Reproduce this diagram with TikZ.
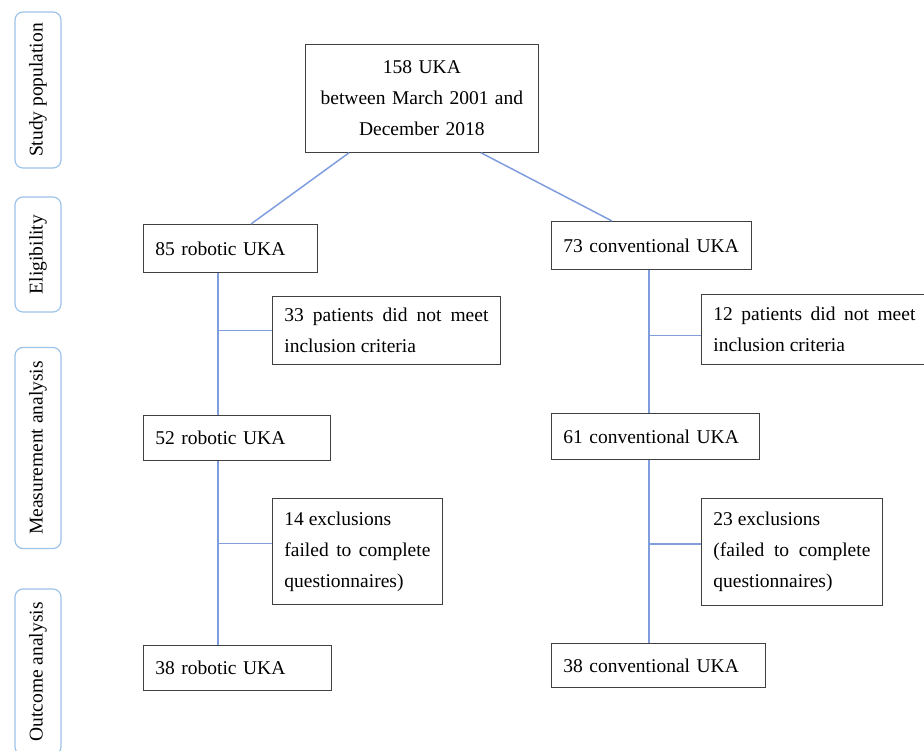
\documentclass[tikz,border=0pt]{standalone}
\usepackage{fontspec}
\setmainfont{Liberation Serif}
\usepackage{xcolor}
\usepackage{tikz}

\definecolor{stageblue}{RGB}{157,195,232}
\definecolor{linkblue}{RGB}{128,158,222}
\hyphenpenalty=10000

\begin{document}
\begin{tikzpicture}[x=1pt, y=-1pt,
    font=\fontsize{19.5pt}{31pt}\selectfont,
    stage/.style={draw=stageblue, line width=1.2pt, rounded corners=8pt,
        rotate=90, minimum height=46pt, inner sep=0pt},
    box/.style={draw=black!75, line width=0.8pt, anchor=north west,
        inner xsep=12pt, inner ysep=0pt, align=left},
    link/.style={draw=linkblue, line width=1.5pt}]
    \useasboundingbox (0,0) rectangle (924,751);
    % stages
    \node [stage, minimum width=156pt] (population) at (38,90) {Study population};
    \node [stage, minimum width=115pt] (eligibility) at (38,254.5) {Eligibility};
    \node [stage, minimum width=201pt] (measurement) at (38,448) {Measurement analysis};
    \node [stage, minimum width=166pt] (outcome) at (38,672) {Outcome analysis};
    % nodes
    \node [box, align=center, text width=209pt, minimum height=108pt] (uka) at (305,44)
        {158 UKA\\between March 2001 and\\December 2018};
    \node [box, text width=150pt, minimum height=48pt] (rob85) at (143,224) {85 robotic UKA};
    \node [box, align=justify, text width=204pt, minimum height=68pt] (robex1) at (272,296)
        {33 patients did not meet\linebreak inclusion criteria};
    \node [box, text width=163pt, minimum height=45pt] (rob52) at (143,415) {52 robotic UKA};
    \node [box, align=justify, text width=146pt, minimum height=106pt] (robex2) at (272,498)
        {14 exclusions\\failed to complete\linebreak questionnaires)};
    \node [box, text width=164pt, minimum height=45pt] (rob38) at (143,645) {38 robotic UKA};
    \node [box, text width=176pt, minimum height=48pt] (con73) at (551,221) {73 conventional UKA};
    \node [box, align=justify, text width=202pt, minimum height=70pt] (conex1) at (701,294)
        {12 patients did not meet\linebreak inclusion criteria};
    \node [box, text width=184pt, minimum height=46pt] (con61) at (551,413) {61 conventional UKA};
    \node [box, align=justify, text width=157pt, minimum height=107pt] (conex2) at (701,498)
        {23 exclusions\\(failed to complete\linebreak questionnaires)};
    \node [box, text width=190pt, minimum height=44pt] (con38) at (551,643) {38 conventional UKA};
    % spines
    \coordinate (robspine) at ([xshift=75pt]rob85.south west);
    \coordinate (robspine2) at ([xshift=75pt]rob52.south west);
    \coordinate (conspine) at ([xshift=98pt]con73.south west);
    \coordinate (conspine2) at ([xshift=98pt]con61.south west);
    % connectors
    \draw [link] ([xshift=44pt]uka.south west) -- ([xshift=108pt]rob85.north west);
    \draw [link] ([xshift=176pt]uka.south west) -- ([xshift=61pt]con73.north west);
    \draw [link] (robspine) -- (robspine |- rob52.north);
    \draw [link] (robex1.west) -- (robex1.west -| robspine);
    \draw [link] (robspine2) -- (robspine2 |- rob38.north);
    \draw [link] ([yshift=8pt]robex2.west) -- ([yshift=8pt]robex2.west -| robspine2);
    \draw [link] (conspine) -- (conspine |- con61.north);
    \draw [link] ([yshift=-6pt]conex1.west) -- ([yshift=-6pt]conex1.west -| conspine);
    \draw [link] (conspine2) -- (conspine2 |- con38.north);
    \draw [link] ([yshift=8pt]conex2.west) -- ([yshift=8pt]conex2.west -| conspine2);
\end{tikzpicture}
\end{document}
